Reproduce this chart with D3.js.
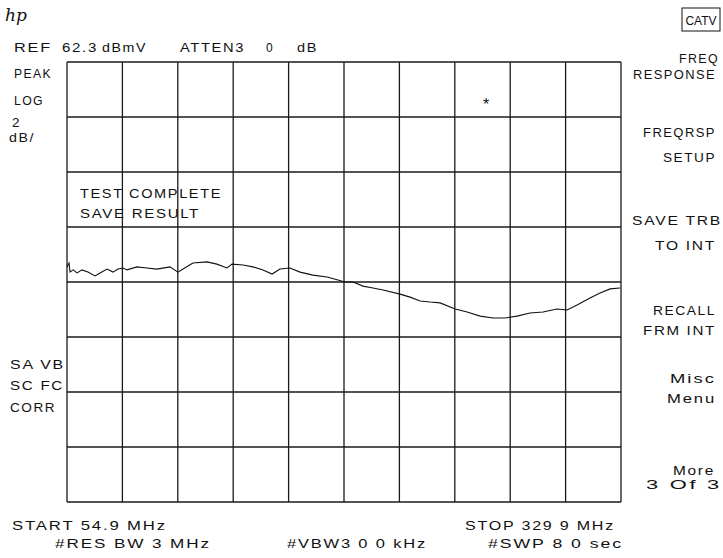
<!DOCTYPE html>
<html>
<head>
<meta charset="utf-8">
<script src="https://cdn.jsdelivr.net/npm/d3@7"></script>
<style>
  body { margin: 0; background: #fff; }
  text { font-family: "Liberation Sans", Arial, sans-serif; fill: #111; }
</style>
</head>
<body>
<div id="chart"></div>
<script>
// analyzer settings
const refLevel = 62.3;      // dBmV, top graticule line
const dbPerDiv = 2;
const startFreq = 54.9;     // MHz
const stopFreq = 329.9;
const xDivs = 10, yDivs = 8;

// trace (frequency response), MHz / dBmV
const traceFreq = [54.9, 55.9, 56.4, 57.9, 59.9, 62.3, 65.3, 68.8, 71.3, 74.8, 77.7, 80.2, 82.7, 84.7,
  89.6, 94.6, 99.5, 106.0, 110.0, 112.5, 117.4, 124.4, 129.3, 134.3, 136.8, 142.3, 147.2, 152.2,
  156.7, 160.6, 165.6, 170.6, 177.0, 184.0, 189.4, 192.9, 196.9, 201.8, 206.8, 211.8, 220.2,
  225.2, 230.2, 235.1, 240.1, 247.6, 253.5, 260.0, 266.4, 272.3, 278.3, 284.7, 291.2, 298.1,
  303.1, 308.1, 314.5, 319.5, 324.5, 329.4];
const traceAmp = [54.85, 54.99, 54.66, 54.74, 54.63, 54.74, 54.66, 54.52, 54.63, 54.77, 54.66, 54.77,
  54.81, 54.74, 54.85, 54.81, 54.77, 54.85, 54.66, 54.77, 54.99, 55.03, 54.95, 54.81, 54.95,
  54.92, 54.85, 54.74, 54.59, 54.77, 54.81, 54.66, 54.55, 54.48, 54.37, 54.30, 54.30, 54.15,
  54.08, 54.01, 53.86, 53.75, 53.61, 53.57, 53.54, 53.32, 53.21, 53.06, 52.99, 52.99, 53.06,
  53.17, 53.21, 53.32, 53.28, 53.46, 53.72, 53.90, 54.05, 54.08];

// marker
const markerFreq = 262.9, markerAmp = 60.8;

// screen annotations
const headerText = [["REF", 14, 38], ["62.3", 62, 36], ["dBmV", 102, 45], ["ATTEN3", 180, 65], ["0", 266, 8], ["dB", 297, 21]];
const leftText = [["PEAK", 14, 78, 38], ["LOG", 14, 105, 30], ["2", 12, 127, 0], ["dB/", 9, 142, 26],
  ["SA VB", 10, 369, 55], ["SC FC", 10, 390, 54], ["CORR", 10, 412, 46]];
const softkeys = [["FREQ", 719, 63, 40], ["RESPONSE", 716, 79, 83], ["FREQRSP", 716, 137, 73], ["SETUP", 716, 162, 53],
  ["SAVE TRB", 722, 225, 90], ["TO INT", 716, 250, 61], ["RECALL", 716, 315, 63], ["FRM INT", 716, 335, 73],
  ["Misc", 716, 383, 46], ["Menu", 716, 403, 49], ["More", 715, 475, 42]];
const footerText = [["START 54.9 MHz", 12, 530, 155], ["#RES BW 3 MHz", 55, 548, 156],
  ["#VBW3 0 0 kHz", 287, 548, 140], ["STOP 329 9 MHz", 465, 530, 150], ["#SWP 8 0  sec", 488, 548, 135]];
const messages = [["TEST COMPLETE", 80, 198, 142], ["SAVE RESULT", 80, 218, 120]];

const W = 723, H = 558;
const svg = d3.select("#chart").append("svg")
  .attr("width", W).attr("height", H)
  .style("background", "#fff");

const x = d3.scaleLinear().domain([startFreq, stopFreq]).range([67, 621]);
const y = d3.scaleLinear().domain([refLevel - dbPerDiv * yDivs, refLevel]).range([502, 62]);

// graticule
const fStep = (stopFreq - startFreq) / xDivs;
const grid = svg.append("g").attr("stroke", "#1a1a1a").attr("stroke-width", 1.3);
grid.selectAll(".v").data(d3.range(xDivs + 1)).join("line")
  .attr("x1", i => x(startFreq + i * fStep)).attr("x2", i => x(startFreq + i * fStep))
  .attr("y1", y.range()[0]).attr("y2", y.range()[1]);
grid.selectAll(".h").data(d3.range(yDivs + 1)).join("line")
  .attr("y1", i => y(refLevel - i * dbPerDiv)).attr("y2", i => y(refLevel - i * dbPerDiv))
  .attr("x1", x.range()[0]).attr("x2", x.range()[1]);

// trace
const line = d3.line().x(d => x(d[0])).y(d => y(d[1]));
svg.append("path")
  .datum(d3.zip(traceFreq, traceAmp))
  .attr("fill", "none").attr("stroke", "#111").attr("stroke-width", 1.1)
  .attr("d", line);

// marker asterisk
svg.append("text").attr("x", x(markerFreq)).attr("y", y(markerAmp) + 7)
  .attr("text-anchor", "middle").style("font-size", "16px").text("*");

// text helper
function label(t, px, py, len, anchor, size) {
  const el = svg.append("text").attr("x", px).attr("y", py)
    .attr("text-anchor", anchor || "start")
    .style("font-size", (size || 13.5) + "px").style("letter-spacing", "1.5px")
    .text(t);
  if (len) el.attr("textLength", len).attr("lengthAdjust", "spacingAndGlyphs");
  return el;
}

headerText.forEach(d => label(d[0], d[1], 52, d[2]));
leftText.forEach(d => label(d[0], d[1], d[2], d[3]));
softkeys.forEach(d => label(d[0], d[1], d[2], d[3], "end"));
label("3  Of  3", 722, 489, 76, "end", 12);
footerText.forEach(d => label(d[0], d[1], d[2], d[3]));
messages.forEach(d => label(d[0], d[1], d[2], d[3]));

// hp logo
svg.append("text").attr("x", 5).attr("y", 21)
  .style("font-family", "DejaVu Serif").style("font-style", "italic").style("font-size", "17px")
  .text("hp");

// CATV boxed label
svg.append("rect").attr("x", 682).attr("y", 8).attr("width", 38).attr("height", 23)
  .attr("fill", "none").attr("stroke", "#111").attr("stroke-width", 1);
svg.append("text").attr("x", 701).attr("y", 25).attr("text-anchor", "middle")
  .style("font-size", "12px").text("CATV");
</script>
</body>
</html>
